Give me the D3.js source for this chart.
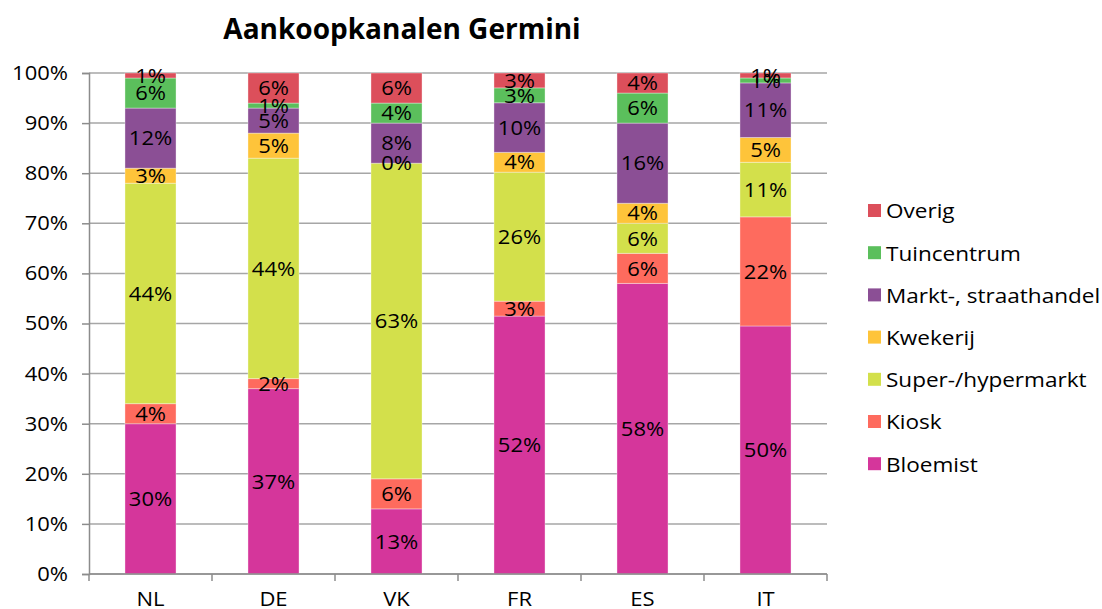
<!DOCTYPE html>
<html>
<head>
<meta charset="utf-8">
<script src="https://cdn.jsdelivr.net/npm/d3@7"></script>
<style>
  body { margin: 0; background: #fff; }
  text { font-family: "Open Sans", sans-serif; }
</style>
</head>
<body>
<svg id="chart" width="1102" height="609"></svg>
<script>
// categories (countries) and series, bottom to top of the stack
var countries = ["NL", "DE", "VK", "FR", "ES", "IT"];
var channels = ["Bloemist", "Kiosk", "Super-/hypermarkt", "Kwekerij", "Markt-, straathandel", "Tuincentrum", "Overig"];

// percentages per channel, in order of countries
var bloemist = [30, 37, 13, 52, 58, 50];
var kiosk = [4, 2, 6, 3, 6, 22];
var supermarkt = [44, 44, 63, 26, 6, 11];
var kwekerij = [3, 5, 0, 4, 4, 5];
var markt = [12, 5, 8, 10, 16, 11];
var tuincentrum = [6, 1, 4, 3, 6, 1];
var overig = [1, 6, 6, 3, 4, 1];

var yTicks = [0, 0.1, 0.2, 0.3, 0.4, 0.5, 0.6, 0.7, 0.8, 0.9, 1];

var colors = ["#d5369b", "#fe6b5e", "#d3e04b", "#fec43a", "#8b4f95", "#5bbf5c", "#dc4f5b"];

var seriesValues = [bloemist, kiosk, supermarkt, kwekerij, markt, tuincentrum, overig];

// table for d3.stack
var rows = countries.map(function(c, i) {
	var r = { country: c };
	channels.forEach(function(ch, j) { r[ch] = seriesValues[j][i]; });
	return r;
});

var stacked = d3.stack()
	.keys(channels)
	.offset(d3.stackOffsetExpand)(rows);

var svg = d3.select("#chart");

var plotLeft = 89, plotRight = 827, plotTop = 73, plotBottom = 574;
var stretch = 1.1; // the original text is a bit wider than Open Sans

var x = d3.scaleBand()
	.domain(countries)
	.range([plotLeft, plotRight])
	.paddingInner(0.585)
	.paddingOuter(0.2925);

var y = d3.scaleLinear()
	.domain([0, 1])
	.range([plotBottom, plotTop]);

var color = d3.scaleOrdinal().domain(channels).range(colors);

function place(px, py) {
	return "translate(" + px + "," + py + ") scale(" + stretch + ",1)";
}

// title
svg.append("text")
	.attr("x", 402)
	.attr("y", 39)
	.attr("text-anchor", "middle")
	.attr("font-size", "28px")
	.attr("font-weight", "bold")
	.attr("fill", "#000")
	.text("Aankoopkanalen Germini");

// gridlines
svg.append("g")
	.selectAll("line")
	.data(yTicks)
	.enter()
	.append("line")
	.attr("x1", plotLeft)
	.attr("x2", plotRight)
	.attr("y1", function(d) { return y(d); })
	.attr("y2", function(d) { return y(d); })
	.attr("stroke", "#a6a6a6")
	.attr("stroke-width", 1.5);

// y axis
var yAxis = svg.append("g")
	.attr("transform", "translate(" + plotLeft + ",0)")
	.call(d3.axisLeft(y).tickValues(yTicks).tickFormat(d3.format(".0%")).tickSize(7));
yAxis.select(".domain").attr("stroke", "#8c8c8c").attr("stroke-width", 1.5);
yAxis.selectAll(".tick line").attr("stroke", "#8c8c8c").attr("stroke-width", 1.5);
yAxis.selectAll(".tick text")
	.attr("x", -21 / stretch)
	.attr("transform", "scale(" + stretch + ",1)")
	.attr("font-size", "20px")
	.attr("fill", "#000")
	.attr("font-family", "'Open Sans', sans-serif");

// bars
var layers = svg.append("g")
	.selectAll("g")
	.data(stacked)
	.enter()
	.append("g")
	.attr("fill", function(d) { return color(d.key); });

layers.selectAll("rect")
	.data(function(d) { return d; })
	.enter()
	.append("rect")
	.attr("x", function(d) { return x(d.data.country); })
	.attr("width", x.bandwidth())
	.attr("y", function(d) { return y(d[1]); })
	.attr("height", function(d) { return y(d[0]) - y(d[1]); })
	.attr("stroke", "rgba(255,255,255,0.35)")
	.attr("stroke-width", 1);

// x axis
svg.append("line")
	.attr("x1", plotLeft)
	.attr("x2", plotRight)
	.attr("y1", plotBottom)
	.attr("y2", plotBottom)
	.attr("stroke", "#8c8c8c")
	.attr("stroke-width", 1.5);

var bounds = d3.range(countries.length + 1).map(function(i) { return plotLeft + i * x.step(); });
svg.append("g")
	.selectAll("line")
	.data(bounds)
	.enter()
	.append("line")
	.attr("x1", function(d) { return d; })
	.attr("x2", function(d) { return d; })
	.attr("y1", plotBottom)
	.attr("y2", plotBottom + 7)
	.attr("stroke", "#8c8c8c")
	.attr("stroke-width", 1.5);

svg.append("g")
	.selectAll("text")
	.data(countries)
	.enter()
	.append("text")
	.attr("transform", function(d) { return place(x(d) + x.bandwidth() / 2, 606); })
	.attr("text-anchor", "middle")
	.attr("font-size", "20px")
	.attr("fill", "#000")
	.text(function(d) { return d; });

// data labels, drawn after all bars so nothing hides them
var labels = svg.append("g");
stacked.forEach(function(layer, j) {
	labels.append("g")
		.selectAll("text")
		.data(layer)
		.enter()
		.append("text")
		.attr("transform", function(d) {
			return place(x(d.data.country) + x.bandwidth() / 2, (y(d[0]) + y(d[1])) / 2);
		})
		.attr("dy", "0.36em")
		.attr("text-anchor", "middle")
		.attr("font-size", "20px")
		.attr("fill", "#000")
		.text(function(d, i) { return seriesValues[j][i] + "%"; });
});

// legend
var legend = svg.append("g")
	.selectAll("g")
	.data(channels.slice().reverse())
	.enter()
	.append("g")
	.attr("transform", function(d, i) { return "translate(868," + (211 + i * 42.2) + ")"; });

legend.append("rect")
	.attr("x", 0)
	.attr("y", -7)
	.attr("width", 13)
	.attr("height", 13)
	.attr("fill", function(d) { return color(d); });

legend.append("text")
	.attr("transform", place(18, 0))
	.attr("dy", "0.36em")
	.attr("font-size", "20.5px")
	.attr("fill", "#000")
	.text(function(d) { return d; });
</script>
</body>
</html>
